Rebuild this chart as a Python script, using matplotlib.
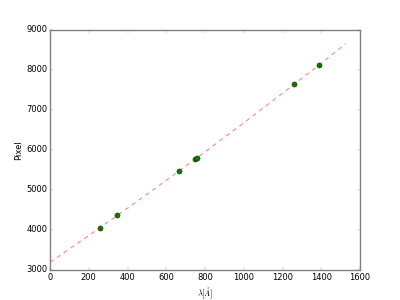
import numpy as np
import matplotlib
matplotlib.use("Agg")
import matplotlib.pyplot as plt

plt.style.use('classic')
plt.rcParams['axes.edgecolor'] = '#808080'
plt.rcParams['axes.linewidth'] = 2.0

# wavelength vs pixel position of the identified lines
wav = np.array([256, 347, 664, 748, 757, 1259, 1388])
pix = np.array([4050, 4367, 5467, 5770, 5800, 7642, 8125])

coef = np.polyfit(wav, pix, 2)
x_fit = np.linspace(0, 1.1 * wav.max(), 100)
y_fit = np.polyval(coef, x_fit)

fig = plt.figure(figsize=(8, 6), dpi=50)
plt.plot(wav, pix, 'go', markersize=7.5)
plt.plot(x_fit, y_fit, 'r--', alpha=0.5, linewidth=1.5)
plt.xlabel(r'$\lambda [\AA]$')
plt.ylabel('Pixel')
plt.xlim(0, 1600)
plt.ylim(3000, 9000)
plt.tick_params(color='#808080')
plt.savefig("out.png", dpi=50)
